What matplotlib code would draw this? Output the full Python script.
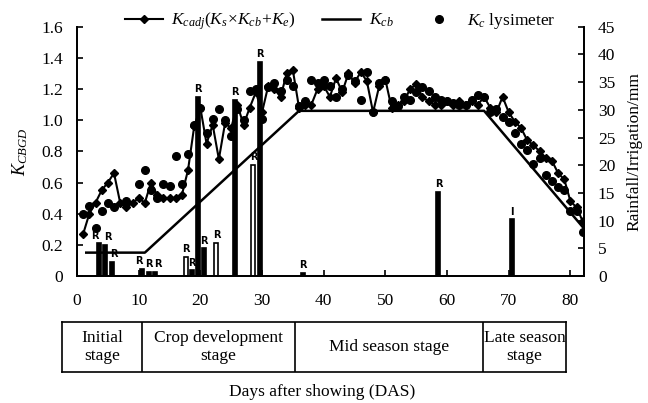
import matplotlib
matplotlib.use("Agg")
import matplotlib.pyplot as plt
import numpy as np

plt.rcParams['font.family'] = ['Liberation Serif', 'DejaVu Serif']
plt.rcParams['mathtext.fontset'] = 'custom'
plt.rcParams['mathtext.rm'] = 'Liberation Serif'
plt.rcParams['mathtext.it'] = 'Liberation Serif:italic'

# Kc adjusted (Ks x Kcb + Ke), daily
kcadj_day = list(range(1, 83))
kcadj = [0.27, 0.40, 0.47, 0.55, 0.60, 0.66, 0.47, 0.44, 0.47, 0.50,
         0.47, 0.60, 0.52, 0.50, 0.50, 0.50, 0.52, 0.68, 0.96, 1.08,
         0.85, 0.97, 0.75, 0.98, 0.95, 1.10, 0.97, 1.08, 1.18, 1.05,
         1.22, 1.20, 1.15, 1.30, 1.32, 1.08, 1.10, 1.10, 1.20, 1.22,
         1.15, 1.27, 1.18, 1.30, 1.24, 1.31, 1.25, 1.05, 1.22, 1.26,
         1.08, 1.10, 1.12, 1.20, 1.23, 1.15, 1.12, 1.10, 1.10, 1.12,
         1.10, 1.12, 1.10, 1.12, 1.10, 1.15, 1.08, 1.05, 1.15, 1.05,
         0.99, 0.95, 0.87, 0.84, 0.80, 0.76, 0.74, 0.66, 0.62, 0.48,
         0.44, 0.35]

# Kc from lysimeter
lys_day = [1, 2, 3, 4, 5, 6, 8, 10, 11, 12, 13, 14, 15, 16, 17, 18, 19, 20,
           21, 22, 23, 24, 25, 26, 27, 28, 29, 30, 31, 32, 33, 34, 35, 36, 37,
           38, 39, 40, 41, 42, 43, 44, 45, 46, 47, 48, 49, 50, 51, 52, 53, 54,
           55, 56, 57, 58, 59, 60, 61, 62, 63, 64, 65, 66, 67, 68, 69, 70, 71,
           72, 73, 74, 75, 76, 77, 78, 79, 80, 81, 82]
lys_kc = [0.40, 0.45, 0.31, 0.42, 0.47, 0.44, 0.48, 0.59, 0.68, 0.55, 0.50,
          0.59, 0.58, 0.77, 0.59, 0.78, 0.97, 1.08, 0.92, 1.01, 1.07, 1.00,
          0.90, 1.07, 1.00, 1.19, 1.20, 1.01, 1.21, 1.24, 1.19, 1.26, 1.22,
          1.09, 1.12, 1.26, 1.24, 1.26, 1.22, 1.15, 1.20, 1.29, 1.25, 1.13,
          1.31, 1.05, 1.24, 1.26, 1.12, 1.09, 1.15, 1.13, 1.18, 1.21, 1.19,
          1.15, 1.13, 1.12, 1.11, 1.10, 1.10, 1.13, 1.16, 1.15, 1.05, 1.07,
          1.02, 0.99, 0.92, 0.85, 0.81, 0.72, 0.76, 0.65, 0.61, 0.57, 0.55,
          0.42, 0.42, 0.28]

# basal crop coefficient (break points)
kcb_day = [1.5, 11, 36, 66, 82.3]
kcb = [0.15, 0.15, 1.06, 1.06, 0.30]

# rainfall / irrigation events (mm)
ev_day = [3.6, 4.6, 5.6, 10.6, 11.6, 12.6, 17.6, 18.6, 19.6, 20.6, 22.6,
          25.6, 28.6, 29.6, 36.6, 58.6, 70.5]
ev_mm = [5.9, 5.6, 2.5, 1.3, 0.8, 0.8, 3.5, 1.0, 32.4, 5.0, 6.0,
         31.8, 20.0, 38.7, 0.5, 15.2, 10.2]
ev_type = ['R', 'R', 'R', 'R', 'R', 'R', 'R', 'R', 'R', 'R', 'R',
           'R', 'R', 'R', 'R', 'R', 'I']
ev_hollow = [False, False, False, False, False, False, True, False, False,
             False, True, False, True, False, False, False, False]
# sideways nudge of crowded labels, in points
lab_dx = [-3, 1.5, 2, -2.5, 0, 2.5, 0, 0, 0, 0, 0, 0, 0, 0, 0, 0, 0]

stages = ['Initial\nstage', 'Crop development\nstage', 'Mid season stage',
          'Late season\nstage']
stage_len = [80, 153, 188, 83]

fig = plt.figure(figsize=(6.48, 4.03), dpi=100)
ax = fig.add_axes([77 / 648, 1 - 276 / 403, 507 / 648, 249.3 / 403])
ax2 = ax.twinx()

ax.plot(kcadj_day, kcadj, color='black', lw=1.5, marker='D', ms=4.5,
        label=r'$K_{cadj}(K_s\!\times\! K_{cb}\!+\!K_e)$')
ax.plot(kcb_day, kcb, color='black', lw=1.8, label=r'$K_{cb}$')
ax.plot(lys_day, lys_kc, 'o', color='black', ms=5.5,
        label=r'$K_c$ lysimeter')

for d, h, t, hol, dx in zip(ev_day, ev_mm, ev_type, ev_hollow, lab_dx):
    ax2.bar(d, h, width=0.65, color='white' if hol else 'black',
            edgecolor='black', lw=1.2)
    ax2.annotate(t, (d, h), xytext=(dx, 2), textcoords='offset points',
                 ha='center', va='bottom', fontsize=7,
                 fontweight='bold', family='DejaVu Sans')

ax.set_xlim(0, 82.2)
ax.set_ylim(0, 1.6)
ax2.set_ylim(0, 45)
ax.set_xticks(range(0, 81, 10))
ax.set_yticks(np.arange(0, 1.61, 0.2))
ax.set_yticklabels(['0'] + ['%.1f' % v for v in np.arange(0.2, 1.61, 0.2)])
ax2.set_yticks(range(0, 46, 5))
for a in (ax, ax2):
    a.spines['top'].set_visible(False)
    for s in a.spines.values():
        s.set_linewidth(1.3)
    a.tick_params(direction='in', length=4, width=1.2, labelsize=12.5,
                  pad=10)
ax.tick_params(axis='x', pad=12)
ax.set_ylabel(r'$K_{CBGD}$', fontsize=13, labelpad=8)
ax2.set_ylabel('Rainfall/Irrigation/mm', fontsize=12.5, labelpad=8)

ax.legend(loc='lower left', bbox_to_anchor=(0.08, 0.95), ncol=3,
          frameon=False, fontsize=12.5, handlelength=2.2, columnspacing=1.5,
          borderaxespad=0, handletextpad=0.5)

# stage table
tab = fig.add_axes([62 / 648, 1 - 372 / 403, 504 / 648, 50 / 403])
tab.set_xlim(0, sum(stage_len))
tab.set_ylim(0, 1)
tab.set_xticks([])
tab.set_yticks([])
for s in tab.spines.values():
    s.set_linewidth(1.2)
edges = np.cumsum([0] + stage_len)
for i, name in enumerate(stages):
    if i > 0:
        tab.axvline(edges[i], color='black', lw=1.2)
    tab.text((edges[i] + edges[i + 1]) / 2, 0.5, name, ha='center',
             va='center', fontsize=12.5, linespacing=1.1)

fig.text(322 / 648, 1 - 392 / 403, 'Days after showing (DAS)', ha='center',
         va='center', fontsize=12.5)

fig.savefig('out.png', dpi=100)
